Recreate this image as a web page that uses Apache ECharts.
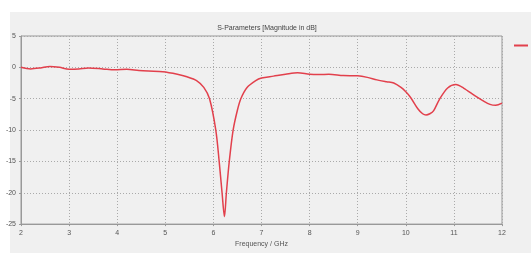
<!DOCTYPE html>
<html>
<head>
<meta charset="utf-8">
<script src="https://cdn.jsdelivr.net/npm/echarts@6/dist/echarts.min.js"></script>
<style>
  html, body { margin: 0; padding: 0; background: #fff; }
  #chart { width: 531px; height: 253px; }
</style>
</head>
<body>
<div id="chart"></div>
<script>
// S11 magnitude
const freqs = [2.0, 2.2, 2.4, 2.6, 2.8, 3.0, 3.2, 3.4, 3.7, 3.95, 4.2, 4.45, 4.65, 4.95, 5.25, 5.45,
  5.65, 5.8, 5.92, 6.05, 6.12, 6.18, 6.23, 6.27, 6.33, 6.41, 6.5, 6.57, 6.7, 6.88, 7.0, 7.25, 7.5,
  7.75, 8.0, 8.2, 8.4, 8.7, 9.0, 9.2, 9.4, 9.6, 9.75, 9.9, 10.0, 10.1, 10.25, 10.35, 10.42, 10.5,
  10.58, 10.7, 10.87, 11.04, 11.2, 11.45, 11.6, 11.75, 11.87, 12.0];
const s11 = [0, -0.25, -0.1, 0.15, 0.0, -0.3, -0.25, -0.1, -0.25, -0.4, -0.3, -0.5, -0.6, -0.7,
  -1.1, -1.5, -2.1, -3.2, -5, -10, -15, -20, -23.8, -20, -15, -10, -6.8, -5, -3.2, -2.1, -1.7,
  -1.4, -1.1, -0.85, -1.1, -1.15, -1.1, -1.3, -1.35, -1.6, -2.0, -2.3, -2.5, -3.2, -3.9, -4.8,
  -6.6, -7.4, -7.6, -7.4, -6.9, -5.1, -3.3, -2.75, -3.3, -4.6, -5.3, -5.9, -6.05, -5.7];
const seriesName = "S1,1";

const myChart = echarts.init(document.getElementById("chart"));
const labelFont = { color: "#555", fontSize: 7, fontFamily: "Liberation Sans" };

const option = {
  backgroundColor: "#fff",
  animation: false,
  graphic: [
    { type: "rect", z: -10, shape: { x: 10, y: 12, width: 521, height: 241 }, style: { fill: "#f0f0f0" } }
  ],
  title: {
    text: "S-Parameters [Magnitude in dB]",
    left: 262, top: 20, textAlign: "center",
    textStyle: { color: "#444", fontSize: 7, fontWeight: "normal", fontFamily: "Liberation Sans" }
  },
  legend: {
    left: 509, top: 37,
    itemWidth: 14, itemHeight: 2,
    icon: "rect",
    textStyle: labelFont,
    data: [seriesName]
  },
  grid: {
    left: 21, right: 29, top: 36, bottom: 22,
    show: true, borderColor: "#999", borderWidth: 1, backgroundColor: "#f0f0f0"
  },
  xAxis: {
    type: "value", min: 2, max: 12, interval: 1,
    name: "Frequency / GHz", nameLocation: "middle", nameGap: 15,
    nameTextStyle: labelFont,
    axisLine: { onZero: false, lineStyle: { color: "#999" } },
    axisTick: { show: true, length: 2, lineStyle: { color: "#999" } },
    axisLabel: Object.assign({ margin: 5 }, labelFont),
    splitLine: { lineStyle: { color: "#aaa", type: [1, 2] } }
  },
  yAxis: {
    type: "value", min: -25, max: 5, interval: 5,
    axisLine: { show: true, onZero: false, lineStyle: { color: "#999" } },
    axisTick: { show: true, length: 2, lineStyle: { color: "#999" } },
    axisLabel: Object.assign({ margin: 5 }, labelFont),
    splitLine: { lineStyle: { color: "#aaa", type: [1, 2] } }
  },
  series: [
    {
      name: seriesName,
      type: "line",
      smooth: 0.3,
      showSymbol: false,
      lineStyle: { color: "#e2404c", width: 1.5 },
      itemStyle: { color: "#e2404c" },
      data: freqs.map((f, i) => [f, s11[i]])
    }
  ]
};

myChart.setOption(option);
</script>
</body>
</html>
